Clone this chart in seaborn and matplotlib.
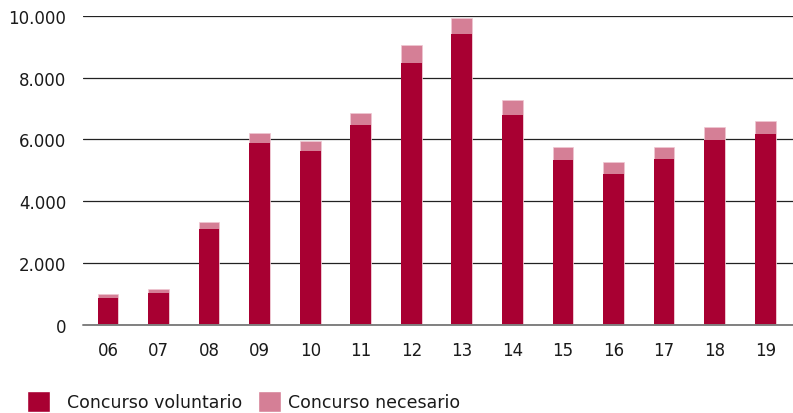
import numpy as np
import pandas as pd
import seaborn as sns
import matplotlib.pyplot as plt
from matplotlib.patches import Patch
from matplotlib.ticker import FuncFormatter

years = ['06', '07', '08', '09', '10', '11', '12', '13', '14', '15', '16', '17', '18', '19']
voluntario = [865, 1035, 3110, 5880, 5640, 6470, 8490, 9430, 6800, 5335, 4880, 5370, 5985, 6180]
necesario = [125, 130, 205, 320, 320, 390, 560, 495, 480, 410, 380, 390, 420, 410]

dark = '#A80032'
light = '#D57F96'

df = pd.DataFrame({'year': years, 'voluntario': voluntario, 'necesario': necesario})
df['total'] = df['voluntario'] + df['necesario']

sns.set_theme(style='white')
plt.rcParams['font.family'] = ['DejaVu Sans']

fig = plt.figure(figsize=(7.93, 4.14), dpi=100)
ax = fig.add_axes([82.7 / 793, 1 - 325.7 / 414, (793 - 82.7) / 793, (325.7 - 17) / 414])

sns.barplot(data=df, x='year', y='total', color=light, width=0.41, saturation=1,
            edgecolor='#EFC8D2', linewidth=0.5, ax=ax)
sns.barplot(data=df, x='year', y='voluntario', color=dark, width=0.41, saturation=1,
            edgecolor='none', ax=ax)

ax.set_ylim(0, 10000)
ax.set_xlim(-0.5, 13.55)
ax.set_yticks(range(0, 10001, 2000))
ax.yaxis.set_major_formatter(FuncFormatter(lambda v, p: f'{int(v):,}'.replace(',', '.')))
ax.grid(axis='y', color='#222222', linewidth=0.9)
ax.axhline(0, color='#808080', linewidth=1.4, clip_on=False, zorder=3)
ax.set_axisbelow(True)
for s in ax.spines.values():
    s.set_visible(False)
ax.tick_params(axis='both', length=0, labelsize=12, colors='#1a1a1a')
ax.tick_params(axis='y', pad=12)
ax.tick_params(axis='x', pad=12)
ax.set_xlabel('')
ax.set_ylabel('')

fs = 12.5
common = dict(loc='lower left', frameon=False, fontsize=fs, borderpad=0, borderaxespad=0,
              handlelength=1.35, handleheight=1.45)
leg1 = fig.legend(handles=[Patch(facecolor=dark, label='Concurso voluntario')],
                  bbox_to_anchor=(27 / 793, 1 / 414), handletextpad=0.95, **common)
leg2 = fig.legend(handles=[Patch(facecolor=light, label='Concurso necesario')],
                  bbox_to_anchor=(258 / 793, 1 / 414), handletextpad=0.4, **common)
for leg in (leg1, leg2):
    for t in leg.get_texts():
        t.set_color('#1a1a1a')

fig.savefig('out.png', dpi=100)
